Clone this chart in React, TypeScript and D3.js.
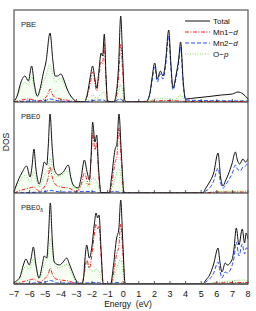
import React from "react";
import * as d3 from "d3";

// energy (eV) vs DOS (arb. units)
const ticksE = [-7, -6, -5, -4, -3, -2, -1, 0, 1, 2, 3, 4, 5, 6, 7, 8];
const panelNames = ["PBE", "PBE0", "PBE0"];
const seriesNames = ["Total", "Mn1", "Mn2", "O"];

const pbeTotal = [[-7,0.05],[-6.8,0.6],[-6.55,2.0],[-6.3,2.6],[-6.08,2.1],[-5.87,3.6],[-5.7,1.8],[-5.5,0.6],[-5.3,1.5],[-5.12,2.9],[-4.95,4.0],[-4.69,6.9],[-4.5,4.0],[-4.37,2.6],[-4.2,2.6],[-4.0,2.8],[-3.8,2.2],[-3.62,1.4],[-3.4,0.7],[-3.2,0.3],[-3.0,0.05],[-2.5,0],[-2.3,0.8],[-2.1,2.6],[-1.96,3.6],[-1.82,2.4],[-1.7,1.4],[-1.55,3.2],[-1.42,4.9],[-1.32,4.6],[-1.21,6.8],[-1.1,2.5],[-1.0,0.1],[-0.6,0],[-0.45,0.8],[-0.3,3.5],[-0.16,8.6],[-0.05,5],[0.1,0.2],[0.2,0],[1.45,0],[1.7,0.8],[1.85,2.4],[2.02,3.9],[2.19,2.3],[2.38,3.1],[2.55,2.6],[2.7,3.8],[2.92,7.2],[3.05,4],[3.19,1.4],[3.4,2.8],[3.55,4.2],[3.68,6.0],[3.85,2.0],[4.0,0.3],[4.3,0.35],[4.6,0.4],[5.5,0.55],[6.3,0.7],[7.0,0.8],[7.36,1.0],[7.68,0.8],[8,0.3]];
const pbeMn1 = [[-7,0],[-6.5,0.2],[-6.1,0.3],[-5.8,0.25],[-5.4,0.1],[-5.0,0.4],[-4.8,0.9],[-4.69,1.3],[-4.55,0.8],[-4.3,0.4],[-4.0,0.3],[-3.5,0.15],[-3.0,0.05],[-2.5,0],[-2.3,0.6],[-2.1,2.0],[-1.96,3.0],[-1.82,2.0],[-1.7,1.1],[-1.55,2.6],[-1.42,4.0],[-1.32,3.8],[-1.21,5.8],[-1.1,2.0],[-1.0,0.05],[-0.6,0],[-0.45,0.5],[-0.3,2.5],[-0.16,5.8],[-0.05,3.5],[0.1,0.1],[0.2,0],[2,0.1],[3,0.15],[4,0.05],[8,0.05]];
const pbeMn2 = [[-7,0],[-6,0.1],[-5,0.15],[-4.69,0.3],[-4.3,0.15],[-3,0.02],[-2.5,0],[-2,0.15],[-1.3,0.2],[-1,0],[-0.5,0.1],[-0.2,0.3],[0.1,0],[1.45,0],[1.7,0.7],[1.85,2.1],[2.02,3.5],[2.19,2.0],[2.38,2.8],[2.55,2.3],[2.7,3.4],[2.92,6.6],[3.05,3.6],[3.19,1.2],[3.4,2.5],[3.55,3.8],[3.68,5.5],[3.85,1.7],[4.0,0.2],[5,0.15],[8,0.1]];
const pbeOp = [[-7,0],[-6.8,0.5],[-6.5,1.6],[-6.3,2.0],[-6.08,1.7],[-5.87,2.5],[-5.7,1.3],[-5.5,0.5],[-5.3,1.2],[-5.12,2.0],[-4.95,2.6],[-4.69,3.8],[-4.5,2.6],[-4.37,2.0],[-4.0,2.4],[-3.8,1.8],[-3.5,0.9],[-3.2,0.2],[-3.0,0],[-2.5,0],[-2.1,0.5],[-1.96,0.7],[-1.7,0.4],[-1.42,0.8],[-1.21,1.0],[-1.0,0],[-0.6,0],[-0.3,1.0],[-0.16,1.8],[0.1,0],[1.5,0],[2.0,0.3],[2.9,0.4],[3.3,0.2],[3.68,0.7],[4.0,0.1],[6,0.1],[8,0.1]];

const pbe0Total = [[-7,0.1],[-6.85,0.8],[-6.5,2.0],[-6.19,2.7],[-5.97,1.6],[-5.85,2.6],[-5.72,4.4],[-5.6,2.5],[-5.38,0.9],[-5.2,2.0],[-5.06,3.1],[-4.9,2.8],[-4.8,4.8],[-4.69,7.9],[-4.55,4.5],[-4.42,2.4],[-4.16,1.8],[-3.84,2.1],[-3.52,2.8],[-3.35,1.5],[-3.2,0.8],[-2.88,0.5],[-2.7,1.5],[-2.49,3.3],[-2.3,2.0],[-2.17,1.3],[-2.05,4.0],[-1.96,7.1],[-1.81,5.1],[-1.7,5.8],[-1.58,2.5],[-1.42,0.05],[-0.9,0],[-0.75,1.5],[-0.53,4.3],[-0.4,5.0],[-0.27,7.9],[-0.12,4.0],[0.05,0.1],[0.2,0],[5.1,0],[5.3,0.5],[5.54,1.1],[5.8,2.0],[6.08,4.0],[6.25,1.5],[6.4,0.7],[6.55,1.2],[6.72,1.8],[6.97,2.9],[7.19,4.1],[7.32,3.3],[7.46,2.9],[7.68,3.4],[7.83,3.1],[8,3.4]];
const pbe0Mn1 = [[-7,0],[-6.5,0.3],[-6.0,0.5],[-5.72,0.6],[-5.4,0.2],[-5.06,0.6],[-4.8,1.6],[-4.69,2.6],[-4.55,1.6],[-4.3,0.8],[-4.0,0.6],[-3.5,0.5],[-3.0,0.15],[-2.7,0.8],[-2.49,2.0],[-2.2,0.8],[-2.05,3.5],[-1.96,6.0],[-1.81,4.3],[-1.7,5.0],[-1.58,2.0],[-1.42,0],[-0.9,0],[-0.75,0.8],[-0.53,3.0],[-0.4,3.8],[-0.27,6.5],[-0.12,3.2],[0.05,0],[5.1,0],[6,0.1],[8,0.1]];
const pbe0Mn2 = [[-7,0],[-5,0.15],[-4.69,0.25],[-4,0.1],[-2,0.15],[-1.42,0],[-0.5,0.15],[0.05,0],[5.1,0],[5.3,0.2],[5.54,0.5],[5.8,1.2],[6.08,2.5],[6.25,1.0],[6.4,0.5],[6.6,0.9],[6.8,1.4],[7.0,2.0],[7.19,2.8],[7.32,2.4],[7.5,2.2],[7.68,2.6],[7.83,2.7],[8,3.0]];
const pbe0Op = [[-7,0],[-6.85,0.6],[-6.5,1.5],[-6.19,1.8],[-5.97,1.1],[-5.72,2.2],[-5.5,1.0],[-5.38,0.6],[-5.06,1.8],[-4.8,2.4],[-4.69,3.5],[-4.5,2.2],[-4.2,1.6],[-3.84,1.9],[-3.52,2.2],[-3.2,0.6],[-2.88,0.4],[-2.49,1.2],[-2.2,0.6],[-1.96,1.5],[-1.7,1.2],[-1.42,0],[-0.9,0],[-0.53,1.4],[-0.27,2.5],[0.05,0],[5.1,0],[6,0.15],[8,0.2]];

const pbe0dTotal = [[-7,0.1],[-6.85,0.3],[-6.62,0.7],[-6.4,1.9],[-6.23,2.5],[-6.02,1.9],[-5.9,2.6],[-5.76,3.7],[-5.6,2.0],[-5.4,0.6],[-5.2,1.8],[-5.06,2.8],[-4.9,2.6],[-4.8,4.5],[-4.67,8.1],[-4.55,4.5],[-4.42,2.2],[-4.1,1.9],[-3.85,2.2],[-3.62,2.6],[-3.45,2.0],[-3.3,1.4],[-2.94,0.2],[-2.66,0],[-2.55,0.5],[-2.45,2.5],[-2.34,3.9],[-2.17,2.6],[-2.0,3.8],[-1.85,6.0],[-1.74,7.1],[-1.64,6.6],[-1.55,6.9],[-1.42,3.5],[-1.28,0.05],[-0.8,0],[-0.65,1.5],[-0.42,4.6],[-0.28,5.5],[-0.16,8.4],[-0.02,4.0],[0.12,0.1],[0.25,0],[5.1,0],[5.3,0.4],[5.54,0.9],[5.8,2.0],[6.08,3.6],[6.2,2.2],[6.33,1.2],[6.54,2.1],[6.67,1.9],[6.97,2.4],[7.1,3.5],[7.25,5.6],[7.42,3.9],[7.63,5.5],[7.78,4.1],[7.88,5.1],[8,4.5]];
const pbe0dMn1 = [[-7,0],[-6.5,0.2],[-6.0,0.4],[-5.76,0.5],[-5.4,0.2],[-5.06,0.5],[-4.8,1.0],[-4.67,1.6],[-4.55,1.0],[-4.3,0.5],[-4.0,0.4],[-3.5,0.3],[-3.0,0.05],[-2.66,0],[-2.45,1.5],[-2.34,2.5],[-2.17,1.6],[-2.0,3.0],[-1.85,5.0],[-1.74,6.0],[-1.64,5.5],[-1.55,5.8],[-1.42,2.8],[-1.28,0],[-0.8,0],[-0.65,0.8],[-0.42,3.0],[-0.28,3.8],[-0.16,6.0],[-0.02,3.0],[0.12,0],[5.1,0],[6,0.1],[8,0.15]];
const pbe0dMn2 = [[-7,0],[-5,0.2],[-4.67,0.35],[-4.2,0.1],[-2.5,0.1],[-1.6,0.15],[-1.28,0],[-0.3,0.15],[0.12,0],[5.1,0],[5.3,0.2],[5.54,0.5],[5.8,1.1],[6.08,2.2],[6.2,1.3],[6.33,0.6],[6.54,1.2],[6.67,1.1],[6.97,1.8],[7.1,2.6],[7.25,4.2],[7.42,2.8],[7.63,4.0],[7.78,3.0],[7.88,3.6],[8,3.5]];
const pbe0dOp = [[-7,0],[-6.62,0.5],[-6.4,1.4],[-6.23,1.8],[-6.02,1.4],[-5.76,2.5],[-5.5,1.0],[-5.4,0.5],[-5.06,1.9],[-4.8,3.0],[-4.67,4.5],[-4.5,2.8],[-4.2,1.6],[-3.85,1.8],[-3.62,2.0],[-3.3,1.0],[-2.94,0.1],[-2.66,0],[-2.45,1.5],[-2.34,2.2],[-2.17,1.5],[-1.85,1.3],[-1.74,1.5],[-1.55,1.3],[-1.28,0],[-0.8,0],[-0.42,1.6],[-0.16,2.5],[0.12,0],[5.1,0],[6,0.15],[7.8,0.4],[8,0.3]];

const panels = [
  [pbeTotal, pbeMn1, pbeMn2, pbeOp],
  [pbe0Total, pbe0Mn1, pbe0Mn2, pbe0Op],
  [pbe0dTotal, pbe0dMn1, pbe0dMn2, pbe0dOp],
];

const W = 256, H = 311;
const left = 14, right = 248;
const panelTops = [10, 102, 193];
const panelH = [92, 91, 91];
const font = "'Liberation Sans', Arial, sans-serif";

const styles: any = {
  Total: { stroke: "#111", dash: null, w: 1 },
  Mn1: { stroke: "#ff1a1a", dash: "4,1.5,1,1.5", w: 1 },
  Mn2: { stroke: "#2a4dff", dash: "4,2", w: 1 },
  O: { stroke: "#77e055", dash: "1,1.5", w: 1 },
};

export default function App() {
  const x = d3.scaleLinear().domain([-7, 8]).range([left, right]);

  return (
    <svg width={W} height={H} style={{ position: "absolute", left: 0, top: 0, background: "#fff" }} fontFamily={font}>
      <defs>
        {panelTops.map((t, i) => (
          <clipPath id={"clip" + i} key={i}>
            <rect x={left} y={t} width={right - left} height={panelH[i]} />
          </clipPath>
        ))}
      </defs>
      {panels.map((series, pi) => {
        const top = panelTops[pi];
        const bottom = top + panelH[pi];
        const y = d3.scaleLinear().domain([0, panelH[pi] / 10]).range([bottom, top]);
        const line = d3.line<number[]>().x(d => x(d[0])).y(d => y(d[1])).curve(d3.curveMonotoneX);
        const area = d3.area<number[]>().x(d => x(d[0])).y0(y(0)).y1(d => y(d[1])).curve(d3.curveMonotoneX);
        return (
          <g key={pi}>
            <g clipPath={`url(#clip${pi})`}>
              <path d={area(series[3] as any) || ""} fill="#b8f0a0" opacity={0.12} />
              {[3, 2, 1, 0].map(si => {
                const s = styles[seriesNames[si]];
                return (
                  <path key={si} d={line(series[si] as any) || ""} fill="none" stroke={s.stroke}
                    strokeWidth={s.w} strokeDasharray={s.dash || undefined} />
                );
              })}
            </g>
            {ticksE.map(t => (
              <line key={t} x1={x(t)} x2={x(t)} y1={bottom} y2={bottom - 3} stroke="#333" strokeWidth={0.8} />
            ))}
            <line x1={left} x2={right} y1={bottom} y2={bottom} stroke="#222" strokeWidth={1} />
            <text x={21} y={top + 17} fontSize={7.5} fill="#222">
              {panelNames[pi]}
              {pi === 2 ? <tspan fontSize={5} dy={2}>δ</tspan> : null}
            </text>
          </g>
        );
      })}
      <rect x={left} y={panelTops[0]} width={right - left} height={284 - panelTops[0]} fill="none" stroke="#555" strokeWidth={1.2} />
      {ticksE.map(t => (
        <text key={t} x={x(t)} y={297} fontSize={9} textAnchor="middle" fill="#111">
          {t < 0 ? "\u2212" + Math.abs(t) : t}
        </text>
      ))}
      <text x={128} y={307} fontSize={8.5} textAnchor="middle" fill="#111" xmlSpace="preserve">Energy  (eV)</text>
      <text transform="translate(9,142) rotate(-90)" fontSize={8.5} textAnchor="middle" fill="#111">DOS</text>
      {seriesNames.map((n, i) => {
        const s = styles[n];
        const ly = 21 + i * 11;
        const labels = [["Total", ""], ["Mn1\u2212", "d"], ["Mn2\u2212", "d"], ["O\u2212", "p"]];
        return (
          <g key={n}>
            <line x1={185} x2={210} y1={ly} y2={ly} stroke={s.stroke} strokeWidth={1} strokeDasharray={s.dash || undefined} />
            <text x={213} y={ly + 3} fontSize={8} fill="#111">
              {labels[i][0]}
              <tspan fontStyle="italic">{labels[i][1]}</tspan>
            </text>
          </g>
        );
      })}
    </svg>
  );
}
